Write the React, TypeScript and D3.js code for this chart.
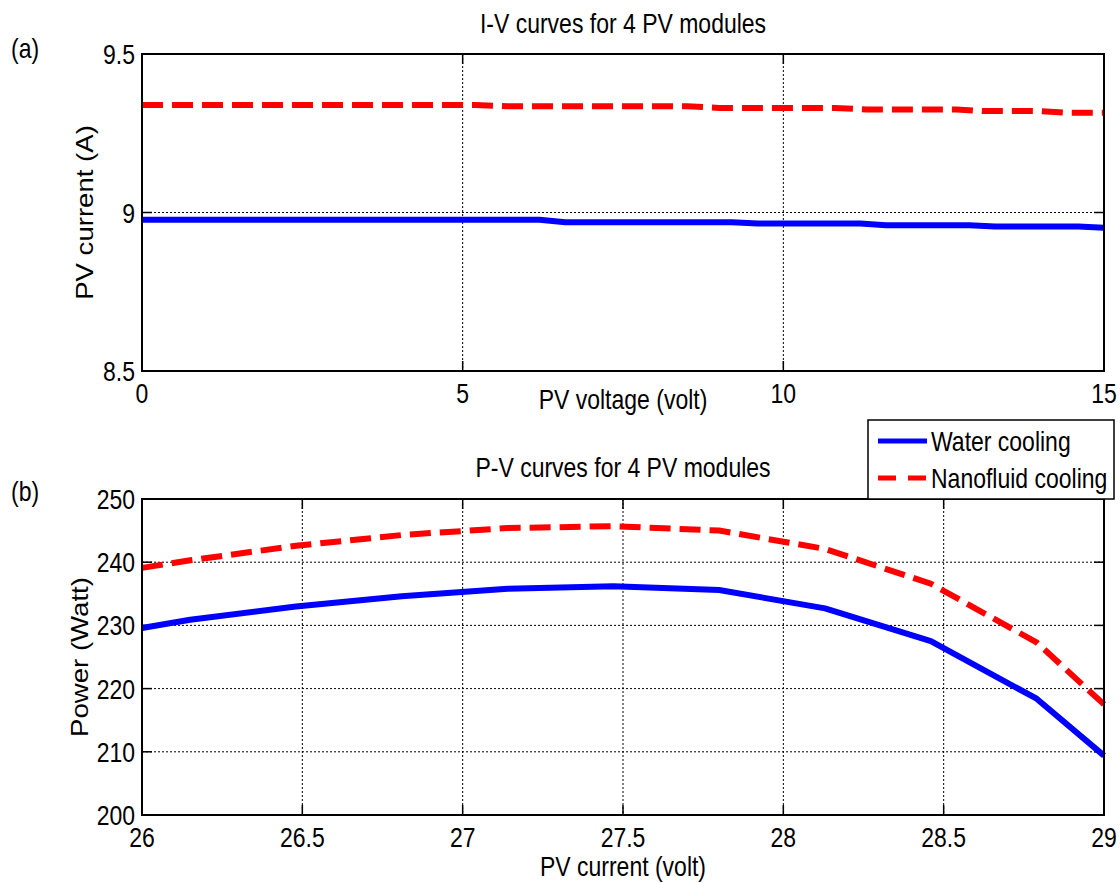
import React from "react";
import * as d3 from "d3";

// (a) I-V curves
const ivVoltWater = [0, 6.2, 6.6, 9.2, 9.6, 11.2, 11.6, 12.9, 13.3, 14.6, 15];
const ivCurrWater = [8.977, 8.977, 8.969, 8.969, 8.965, 8.965, 8.96, 8.96, 8.956, 8.956, 8.952];
const ivVoltNano = [0, 5.2, 5.7, 8.5, 9.0, 10.8, 11.3, 12.7, 13.1, 14.0, 14.4, 15];
const ivCurrNano = [9.339, 9.339, 9.335, 9.335, 9.33, 9.33, 9.325, 9.325, 9.32, 9.32, 9.315, 9.315];

// (b) P-V curves
const pvCurr = [26, 26.15, 26.48, 26.81, 27.14, 27.47, 27.8, 28.13, 28.46, 28.79, 29];
const pvPowWater = [229.6, 230.9, 233.0, 234.6, 235.8, 236.2, 235.6, 232.7, 227.5, 218.4, 209.4];
const pvPowNano = [239.1, 240.3, 242.6, 244.3, 245.4, 245.7, 245.0, 242.1, 236.6, 227.3, 217.5];

const ivXTicks = [0, 5, 10, 15];
const ivYTicks = [8.5, 9, 9.5];
const pvXTicks = [26, 26.5, 27, 27.5, 28, 28.5, 29];
const pvYTicks = [200, 210, 220, 230, 240, 250];

const seriesNames = ["Water cooling", "Nanofluid cooling"];

const FONT = "'Liberation Sans', Arial, sans-serif";
const BLUE = "#0000ff";
const RED = "#ff0000";
const DASH = "21,9";
const STRETCH = 1.2; // the source picture is stretched vertically

type Pt = [number, number];

// text anchored at its baseline, stretched vertically on screen
function T(props: { x: number; y: number; anchor?: string; size?: number; rotate?: boolean; children: React.ReactNode }) {
  const tf = props.rotate
    ? `translate(${props.x},${props.y}) rotate(-90) scale(${STRETCH},1)`
    : `translate(${props.x},${props.y}) scale(1,${STRETCH})`;
  return (
    <text transform={tf} textAnchor={props.anchor || "start"} fontSize={props.size || 23}
      fontFamily={FONT} fill="#000">
      {props.children}
    </text>
  );
}

function Panel(props: {
  top: number; bottom: number; left: number; right: number;
  xDomain: [number, number]; yDomain: [number, number];
  xTicks: number[]; yTicks: number[];
  water: Pt[]; nano: Pt[];
  title: string; xLabel: string; yLabel: string; tag: string;
  titleY: number; xLabelY: number; yLabelX: number; tagY: number;
}) {
  const p = props;
  const x = d3.scaleLinear().domain(p.xDomain).range([p.left, p.right]);
  const y = d3.scaleLinear().domain(p.yDomain).range([p.bottom, p.top]);
  const line = d3.line<Pt>().x(d => x(d[0])).y(d => y(d[1]));
  const tl = 10;
  const cx = (p.left + p.right) / 2;
  const cy = (p.top + p.bottom) / 2;
  return (
    <g>
      {/* grid */}
      {p.xTicks.slice(1, -1).map(t => (
        <line key={"gx" + t} x1={x(t)} x2={x(t)} y1={p.top} y2={p.bottom}
          stroke="#000" strokeWidth={1} strokeDasharray="2,2" />
      ))}
      {p.yTicks.slice(1, -1).map(t => (
        <line key={"gy" + t} x1={p.left} x2={p.right} y1={y(t)} y2={y(t)}
          stroke="#000" strokeWidth={1} strokeDasharray="2,2" />
      ))}
      {/* ticks, inward on all four sides */}
      {p.xTicks.map(t => (
        <g key={"tx" + t}>
          <line x1={x(t)} x2={x(t)} y1={p.bottom} y2={p.bottom - tl} stroke="#000" strokeWidth={1.5} />
          <line x1={x(t)} x2={x(t)} y1={p.top} y2={p.top + tl} stroke="#000" strokeWidth={1.5} />
          <T x={x(t)} y={p.bottom + 32} anchor="middle">{t}</T>
        </g>
      ))}
      {p.yTicks.map(t => (
        <g key={"ty" + t}>
          <line x1={p.left} x2={p.left + tl} y1={y(t)} y2={y(t)} stroke="#000" strokeWidth={1.5} />
          <line x1={p.right} x2={p.right - tl} y1={y(t)} y2={y(t)} stroke="#000" strokeWidth={1.5} />
          <T x={p.left - 7} y={y(t) + 10} anchor="end">{t}</T>
        </g>
      ))}
      {/* lines */}
      <path d={line(p.water) || ""} fill="none" stroke={BLUE} strokeWidth={6} strokeLinejoin="round" />
      <path d={line(p.nano) || ""} fill="none" stroke={RED} strokeWidth={6} strokeDasharray={DASH} />
      {/* frame */}
      <rect x={p.left} y={p.top} width={p.right - p.left} height={p.bottom - p.top}
        fill="none" stroke="#000" strokeWidth={2} />
      <T x={cx} y={p.titleY} anchor="middle">{p.title}</T>
      <T x={cx} y={p.xLabelY} anchor="middle">{p.xLabel}</T>
      <T x={p.yLabelX} y={cy} anchor="middle" rotate>{p.yLabel}</T>
      <T x={11} y={p.tagY}>{p.tag}</T>
    </g>
  );
}

export default function App() {
  const ivWater: Pt[] = ivVoltWater.map((v, i) => [v, ivCurrWater[i]]);
  const ivNano: Pt[] = ivVoltNano.map((v, i) => [v, ivCurrNano[i]]);
  const pvWater: Pt[] = pvCurr.map((v, i) => [v, pvPowWater[i]]);
  const pvNano: Pt[] = pvCurr.map((v, i) => [v, pvPowNano[i]]);

  const lg = { x: 868, y: 420, w: 246, h: 79 };

  return (
    <svg width={1120} height={883} style={{ position: "absolute", left: 0, top: 0, background: "#fff" }}>
      <rect width={1120} height={883} fill="#fff" />
      <Panel top={54} bottom={371} left={142} right={1104}
        xDomain={[0, 15]} yDomain={[8.5, 9.5]} xTicks={ivXTicks} yTicks={ivYTicks}
        water={ivWater} nano={ivNano}
        title="I-V curves for 4 PV modules" xLabel="PV voltage (volt)" yLabel="PV current (A)" tag="(a)"
        titleY={33} xLabelY={409} yLabelX={93} tagY={58} />
      <Panel top={499} bottom={815} left={142} right={1104}
        xDomain={[26, 29]} yDomain={[200, 250]} xTicks={pvXTicks} yTicks={pvYTicks}
        water={pvWater} nano={pvNano}
        title="P-V curves for 4 PV modules" xLabel="PV current (volt)" yLabel="Power (Watt)" tag="(b)"
        titleY={477} xLabelY={876} yLabelX={88} tagY={501} />
      {/* legend */}
      <g>
        <rect x={lg.x} y={lg.y} width={lg.w} height={lg.h} fill="#fff" stroke="#000" strokeWidth={1.5} />
        {seriesNames.map((name, i) => (
          <g key={name}>
            <line x1={lg.x + 10} x2={lg.x + 59} y1={lg.y + 21 + i * 37} y2={lg.y + 21 + i * 37}
              stroke={i === 0 ? BLUE : RED} strokeWidth={5} strokeDasharray={i === 0 ? undefined : "18,12"} />
            <T x={lg.x + 63} y={lg.y + 31 + i * 37}>{name}</T>
          </g>
        ))}
      </g>
    </svg>
  );
}
